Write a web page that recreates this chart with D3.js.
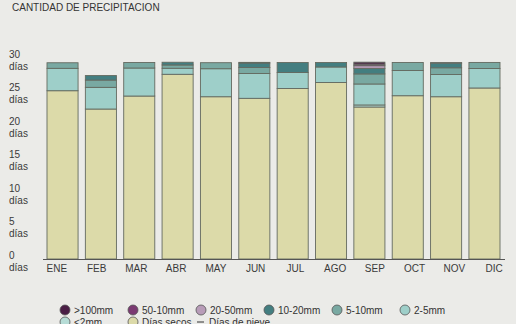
<!DOCTYPE html>
<html><head><meta charset="utf-8">
<script src="https://cdn.jsdelivr.net/npm/d3@7/dist/d3.min.js"></script>
<style>
html,body{margin:0;padding:0;background:#ebebe8;}
svg{display:block;font-family:"Liberation Sans",Arial,sans-serif;}
</style></head><body>
<svg id="c" width="516" height="324"></svg>
<script>
const months = ["ENE","FEB","MAR","ABR","MAY","JUN","JUL","AGO","SEP","OCT","NOV","DIC"];
const yTicks = [0,5,10,15,20,25,30];
// series (days), bottom to top
const dry    = [26.55,23.66,25.71,29.14,25.60,25.35,26.90,27.84,23.98,25.76,25.60,26.98];
const lt2    = [0,0,0,0,0,0,0,0,0.32,0,0,0];
const r2_5   = [3.53,3.42,4.42,0.95,4.42,3.91,2.52,2.45,3.31,3.98,3.50,3.08];
const r5_10  = [0.88,1.15,0.87,0.52,0.95,0.95,0,0,1.59,1.26,1.07,0.95];
const r10_20 = [0,0.71,0,0.43,0,0.71,1.58,0.71,0.87,0,0.74,0];
const r20_50 = [0,0,0,0,0,0.10,0,0,0.43,0,0.08,0];
const r50_100= [0,0,0,0,0,0,0,0,0.25,0,0,0];
const gt100  = [0,0,0,0,0,0,0,0,0.30,0,0,0];

const seriesKeys = ["dry","lt2","r2_5","r5_10","r10_20","r20_50","r50_100","gt100"];
const seriesData = {dry,lt2,r2_5,r5_10,r10_20,r20_50,r50_100,gt100};
const colors = {dry:"#dcdaa9",lt2:"#b6dcd6",r2_5:"#9ecfc9",r5_10:"#79a9a2",r10_20:"#437e80",
  r20_50:"#b89cb8",r50_100:"#7b3a72",gt100:"#4a1e45"};
const legendItems = [
  {k:"gt100",t:">100mm"},{k:"r50_100",t:"50-10mm"},{k:"r20_50",t:"20-50mm"},
  {k:"r10_20",t:"10-20mm"},{k:"r5_10",t:"5-10mm"},{k:"r2_5",t:"2-5mm"},
  {k:"lt2",t:"<2mm"},{k:"dry",t:"Días secos"},{k:"snow",t:"Días de nieve",line:true}];

const table = months.map((m,i)=>{const o={m}; seriesKeys.forEach(k=>o[k]=seriesData[k][i]); return o;});
const stack = d3.stack().keys(seriesKeys)(table);

const svg = d3.select("#c");
const x = d3.scaleBand().domain(months).range([47,500]).paddingInner(0.19).paddingOuter(0);
const xl = d3.scaleBand().domain(months).range([37,514]);
const y = d3.scaleLinear().domain([0,31]).range([259,62.5]);
const yl = d3.scaleLinear().domain([0,30]).range([255,54]);

svg.append("text").attr("x",12).attr("y",10.5).attr("font-size",10).attr("fill","#333")
  .text("CANTIDAD DE PRECIPITACION");

const g = svg.append("g");
stack.forEach(s=>{
  g.selectAll(null).data(s.filter(d=>d[1]-d[0]>0)).enter().append("rect")
    .attr("x",d=>x(d.data.m)).attr("width",x.bandwidth())
    .attr("y",d=>y(d[1])).attr("height",d=>y(d[0])-y(d[1]))
    .attr("fill",colors[s.key]).attr("stroke","#646a60").attr("stroke-width",0.9);
});

svg.append("line").attr("x1",43).attr("x2",505).attr("y1",y(0)+0.5).attr("y2",y(0)+0.5)
  .attr("stroke","#555").attr("stroke-width",1);

// y labels
const yg = svg.append("g").attr("font-size",10).attr("fill","#3a3a3a");
yTicks.forEach(v=>{
  const t = yg.append("text").attr("x",9).attr("y",yl(v)+3.5);
  t.append("tspan").attr("x",9).text(v);
  t.append("tspan").attr("x",9).attr("dy",12).text("días");
});
// x labels
svg.append("g").attr("font-size",10).attr("fill","#3a3a3a").attr("text-anchor","middle")
  .selectAll("text").data(months).enter().append("text")
  .attr("x",d=>xl(d)+xl.bandwidth()/2).attr("y",272).text(d=>d);

// legend grid
const lg = svg.append("g").attr("font-size",10).attr("fill","#333");
legendItems.forEach((it,i)=>{
  const col=i%6, row=Math.floor(i/6);
  const cx = 65 + col*68, cy = 310 + row*12;
  if(it.line){
    lg.append("line").attr("x1",cx-4).attr("x2",cx+3).attr("y1",cy).attr("y2",cy).attr("stroke","#333");
    lg.append("text").attr("x",cx+8).attr("y",cy+3.5).text(it.t);
  } else {
    lg.append("circle").attr("cx",cx).attr("cy",cy).attr("r",5).attr("fill",colors[it.k])
      .attr("stroke","#555").attr("stroke-width",0.8);
    lg.append("text").attr("x",cx+9).attr("y",cy+3.5).text(it.t);
  }
});
</script></body></html>
